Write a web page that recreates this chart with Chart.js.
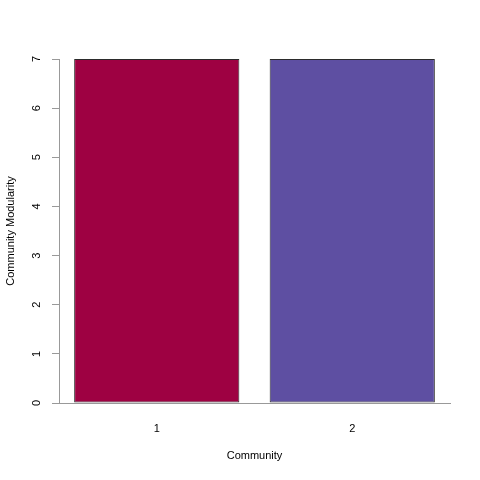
<!DOCTYPE html>
<html>
<head>
<meta charset="utf-8">
<script src="https://cdn.jsdelivr.net/npm/chart.js@4/dist/chart.umd.min.js"></script>
<style>
  html, body { margin: 0; padding: 0; background: #fff; }
  #wrap { width: 480px; height: 480px; }
</style>
</head>
<body>
<div id="wrap"><canvas id="barplot"></canvas></div>
<script>
const communities = ["1", "2"];
const modularity = [7, 7];
const barColors = ["#9E0142", "#5E4FA2"];
const yTicks = [0, 1, 2, 3, 4, 5, 6, 7];

Chart.defaults.font.family = "'Liberation Sans', Arial, sans-serif";
Chart.defaults.font.size = 11;
Chart.defaults.color = "#000";

const ctx = document.getElementById("barplot");

const config = {
  type: "bar",
  data: {
    labels: communities,
    datasets: [
      {
        data: modularity,
        backgroundColor: barColors,
        borderColor: "#2b2b2b",
        borderWidth: 1,
        borderSkipped: false,
        barPercentage: 0.845,
        categoryPercentage: 1,
      },
    ],
  },
  options: {
    responsive: true,
    maintainAspectRatio: false,
    animation: false,
    layout: { padding: { top: 59, right: 30, left: 0, bottom: 0 } },
    plugins: {
      legend: { display: false },
      tooltip: { enabled: false },
    },
    scales: {
      x: {
        grid: { display: false },
        border: { display: true, color: "#999999", width: 1 },
        ticks: { padding: 11 },
        title: {
          display: true,
          text: "Community",
          padding: { top: 4, bottom: 17 },
        },
        afterFit: (scale) => {
          scale.height = 77;
        },
      },
      y: {
        min: 0,
        max: 7,
        afterBuildTicks: (scale) => {
          scale.ticks = yTicks.map((v) => ({ value: v }));
        },
        grid: {
          drawOnChartArea: false,
          tickLength: 7,
          color: "#999999",
        },
        border: { display: true, color: "#999999", width: 1 },
        ticks: {
          minRotation: 90,
          maxRotation: 90,
          crossAlign: "center",
          padding: 12,
        },
        title: {
          display: true,
          text: "Community Modularity",
          padding: { top: 4, bottom: 4 },
        },
        afterFit: (scale) => {
          scale.width = 59;
        },
      },
    },
  },
};

new Chart(ctx, config);
</script>
</body>
</html>
